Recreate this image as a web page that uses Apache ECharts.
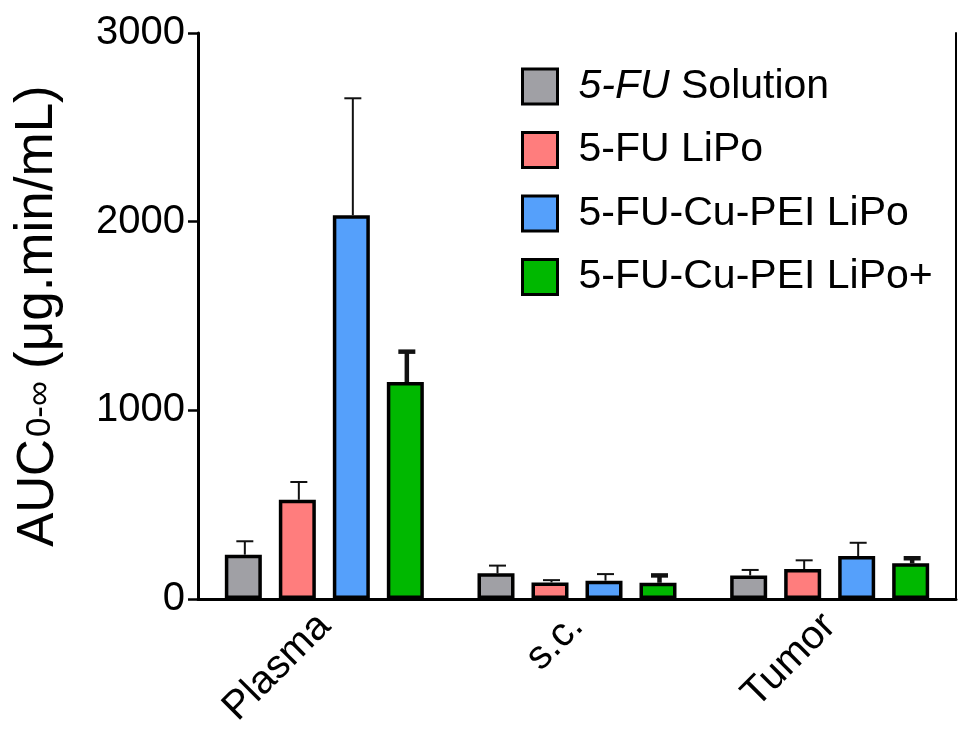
<!DOCTYPE html>
<html>
<head>
<meta charset="utf-8">
<script src="https://cdn.jsdelivr.net/npm/echarts@6/dist/echarts.min.js"></script>
<style>html,body{margin:0;padding:0;background:#fff}#c{width:960px;height:735px}</style>
</head>
<body>
<div id="c"></div>
<script>
const categories = ['Plasma', 's.c.', 'Tumor'];
const seriesNames = ['5-FU Solution', '5-FU LiPo', '5-FU-Cu-PEI LiPo', '5-FU-Cu-PEI LiPo+'];
const solutionMean = [235, 136, 125];
const solutionErr = [71, 41, 29];
const lipoMean = [526, 88, 159];
const lipoErr = [94, 12, 46];
const cuPeiMean = [2034, 97, 228];
const cuPeiErr = [620, 35, 70];
const cuPeiPlusMean = [1150, 86, 189];
const cuPeiPlusErr = [161, 39, 27];
const yTicks = [0, 1000, 2000, 3000];

const means = [solutionMean, lipoMean, cuPeiMean, cuPeiPlusMean];
const errs = [solutionErr, lipoErr, cuPeiErr, cuPeiPlusErr];
const colors = ['#a0a0a5', '#ff7d7d', '#55a0fb', '#00b800'];
const errWidths = [2, 2, 2, 4.5];
const FONT = 'Liberation Sans, Arial, sans-serif';
const BW = 37, STEP = 54;

const chart = echarts.init(document.getElementById('c'));
const series = [];
means.forEach((m, i) => {
  series.push({
    name: seriesNames[i], type: 'bar', data: m, barWidth: BW, barGap: ((STEP - BW) / BW * 100) + '%',
    itemStyle: { color: colors[i], borderColor: '#000', borderWidth: 3.5 }, z: 3
  });
});
means.forEach((m, i) => {
  series.push({
    type: 'custom', z: 2, silent: true,
    data: m.map((v, k) => [k, v, v + errs[i][k]]),
    renderItem: function (params, api) {
      const c = api.coord([api.value(0), api.value(1)]);
      const t = api.coord([api.value(0), api.value(2)]);
      const x = c[0] + (i - 1.5) * STEP + 1.5;
      const st = { stroke: '#111', lineWidth: errWidths[i], fill: null };
      return { type: 'group', children: [
        { type: 'line', shape: { x1: x, y1: c[1], x2: x, y2: t[1] }, style: st },
        { type: 'line', shape: { x1: x - 8.5, y1: t[1], x2: x + 8.5, y2: t[1] }, style: st }
      ]};
    }
  });
});

chart.setOption({
  animation: false,
  backgroundColor: '#fff',
  grid: { left: 198, right: 4, top: 33, bottom: 136 },
  legend: {
    orient: 'vertical', left: 516, top: 61, itemWidth: 35, itemHeight: 35, itemGap: 22.5,
    icon: 'rect', data: seriesNames,
    itemStyle: { borderColor: '#000', borderWidth: 3 },
    formatter: function (n) { return n === '5-FU Solution' ? '{i|5-FU} {t|Solution}' : '{t|' + n + '}'; },
    textStyle: {
      color: '#000', fontFamily: FONT, fontSize: 41, padding: [0, 0, 0, 16],
      rich: { i: { fontStyle: 'italic', fontSize: 41, fontFamily: FONT, color: '#000' },
              t: { fontSize: 41, fontFamily: FONT, color: '#000' } }
    }
  },
  xAxis: {
    type: 'category', data: categories,
    axisLine: { lineStyle: { color: '#000', width: 3 } },
    axisTick: { alignWithLabel: true, length: 10, lineStyle: { color: '#000', width: 2.5 } },
    axisLabel: { rotate: 45, fontSize: 40, fontFamily: FONT, color: '#000', margin: 21, interval: 0 }
  },
  yAxis: [{
    type: 'value', min: 0, max: 3000, interval: 1000,
    axisLine: { show: true, lineStyle: { color: '#000', width: 3 } },
    axisTick: { show: true, length: 10, lineStyle: { color: '#000', width: 2.5 } },
    axisLabel: { fontSize: 40, fontFamily: FONT, color: '#000', margin: 13,
      formatter: v => yTicks.includes(v) ? String(v) : '' },
    splitLine: { show: false },
    name: '{a|AUC}{b|0-∞}{s| }{p|(μg.min/mL)}',
    nameLocation: 'middle', nameGap: 134, nameRotate: 90,
    nameTextStyle: {
      rich: {
        a: { fontSize: 51, fontFamily: FONT, color: '#000', lineHeight: 58, verticalAlign: 'bottom' },
        p: { fontSize: 53, fontFamily: FONT, color: '#000', lineHeight: 58, verticalAlign: 'bottom' },
        s: { fontSize: 36, fontFamily: FONT, color: '#000', lineHeight: 58, verticalAlign: 'bottom' },
        b: { fontSize: 35, fontFamily: FONT, color: '#000', lineHeight: 35, verticalAlign: 'bottom', padding: [0, 2, 6, 2] }
      }
    }
  }, {
    type: 'value', position: 'right', min: 0, max: 3000, interval: 1000,
    axisLine: { show: true, lineStyle: { color: '#000', width: 2 } },
    axisTick: { show: false }, axisLabel: { show: false }, splitLine: { show: false }
  }],
  series: series
});
</script>
</body>
</html>
